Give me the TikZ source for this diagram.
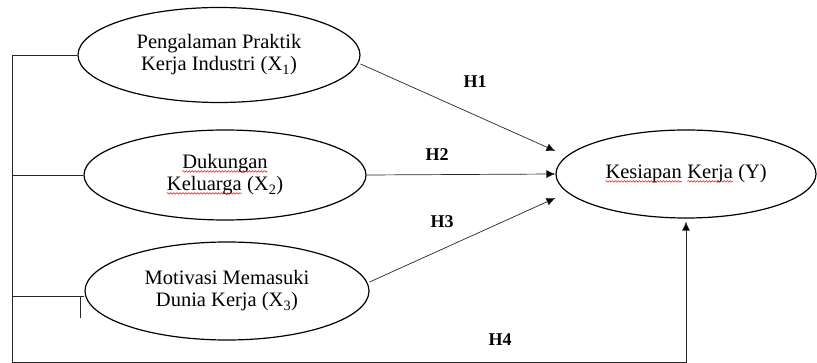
\documentclass[tikz,border=0pt]{standalone}
\usepackage{fontspec}
\setmainfont{Liberation Serif}
\usetikzlibrary{shapes.geometric,arrows.meta,decorations.pathmorphing}
\newcommand{\salah}[1]{\tikz[baseline=(kata.base)]{\node[rectangle,draw=none,inner sep=0pt,
    outer sep=0pt,minimum width=0pt,minimum height=0pt] (kata) {#1};
    \draw[red,line width=0.5pt,decorate,decoration={snake,amplitude=0.8pt,segment length=3pt}]
    ([yshift=-2.5pt]kata.base west) -- ([yshift=-2.5pt]kata.base east);}}
\begin{document}
\begin{tikzpicture}[x=1pt,y=-1pt,
    variabel/.style={draw,ellipse,line width=1.2pt,inner sep=0pt,align=center,
      font=\fontsize{20.5}{22}\selectfont},
    garis/.style={draw=black!85,line width=0.7pt},
    jalur/.style={garis,-{Latex[length=9pt,width=8pt,fill=black]}},
    hipotesis/.style={font=\fontsize{18}{20}\selectfont\bfseries}]
      \useasboundingbox (0,0) rectangle (817,363);
      \node[variabel,minimum width=282pt,minimum height=95pt] (pengalaman) at (219,55)
        {Pengalaman Praktik\\Kerja Industri (X\textsubscript{1})};
      \node[variabel,minimum width=282pt,minimum height=90pt] (dukungan) at (225,175)
        {\salah{Dukungan}\\\salah{Keluarga} (X\textsubscript{2})};
      \node[variabel,minimum width=284pt,minimum height=98pt] (motivasi) at (227,291)
        {Motivasi Memasuki\\Dunia Kerja (X\textsubscript{3})};
      \node[variabel,minimum width=260pt,minimum height=88pt] (kesiapan) at (686,174)
        {\raisebox{4pt}{\salah{Kesiapan} \salah{Kerja} (Y)}};
      \coordinate (kiri) at (12,55);
      \coordinate (bawah) at (12,362);
      \coordinate (tanda) at (80,296);
      \draw[garis] (pengalaman.west) -- (kiri) -- (bawah);
      \draw[garis] (dukungan.west) -- (kiri |- dukungan.west);
      \draw[garis] ([yshift=-5pt]motivasi.west) -- (kiri |- tanda);
      \draw[garis] (tanda) -- ++(0,22);
      \draw[jalur] ([yshift=-9pt]pengalaman.east) -- ([yshift=23pt]kesiapan.west);
      \draw[jalur] (dukungan.east) -- (kesiapan.west);
      \draw[jalur] ([yshift=9pt]motivasi.east) -- ([yshift=-24pt]kesiapan.west);
      \draw[jalur] (bawah) -| ([yshift=-3pt]kesiapan.south);
      \node[hipotesis] (h1) at (475,82) {H1};
      \node[hipotesis] (h2) at (437,155) {H2};
      \node[hipotesis] (h3) at (442,222) {H3};
      \node[hipotesis] (h4) at (500,340) {H4};
    \end{tikzpicture}
\end{document}
